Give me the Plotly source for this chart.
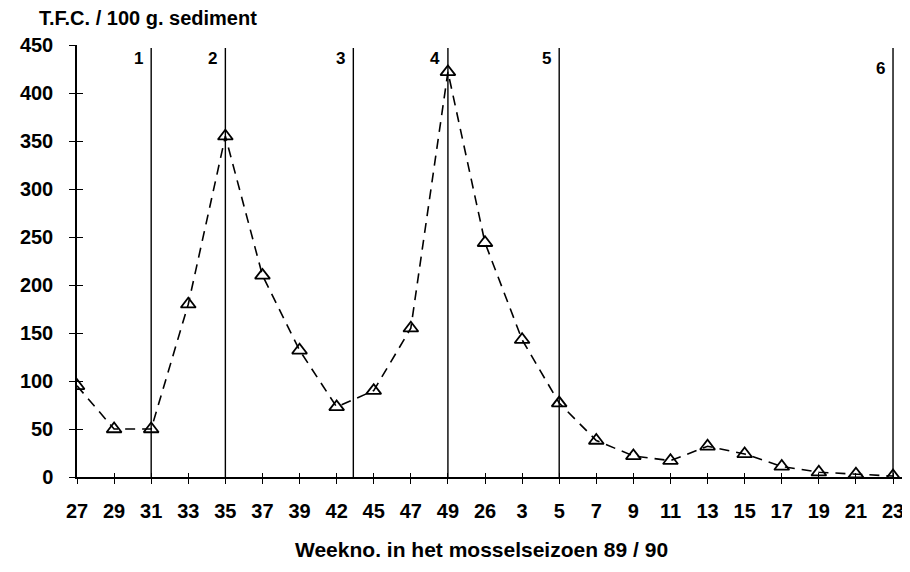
import plotly.graph_objects as go

# ---- data ----
weeks = ["27", "29", "31", "33", "35", "37", "39", "42", "45", "47", "49", "26",
         "3", "5", "7", "9", "11", "13", "15", "17", "19", "21", "23"]
tfc = [95, 50, 50, 180, 355, 210, 132, 73, 90, 155, 422, 244,
       143, 77, 38, 22, 17, 32, 24, 11, 5, 3, 1]

# vertical reference lines (position on the category axis) and their labels
vline_pos = [2, 4, 7.45, 10, 13, 22]
vline_labels = ["1", "2", "3", "4", "5", "6"]
vline_label_y = [436, 436, 436, 436, 436, 426]
vline_top = 447

y_ticks = [0, 50, 100, 150, 200, 250, 300, 350, 400, 450]

y_title = "T.F.C. / 100 g. sediment"
x_title = "Weekno. in het mosselseizoen 89 / 90"

FONT = "Liberation Sans, Arial, sans-serif"

# ---- layout geometry (page pixels); the page body has an 8px margin ----
OFF = 8
W, H = 910 - OFF, 572 - OFF
L, R, T, B = 77 - OFF, 906 - OFF, 45 - OFF, 477 - OFF

fig = go.Figure()

fig.add_trace(go.Scatter(
    x=weeks, y=tfc, mode="lines+markers",
    line=dict(color="black", width=1.6, dash="10px,7px"),
    marker=dict(symbol="triangle-up-open", size=13, color="black",
                line=dict(color="black", width=1.8)),
    showlegend=False, hoverinfo="skip",
))

# invisible trace to carry the overlay axes (for crossing tick marks)
fig.add_trace(go.Scatter(x=[0], y=[0], xaxis="x2", yaxis="y2", mode="markers",
                         marker=dict(opacity=0), showlegend=False, hoverinfo="skip"))

for xp in vline_pos:
    fig.add_shape(type="line", xref="x", yref="y", x0=xp, x1=xp, y0=0, y1=vline_top,
                  line=dict(color="black", width=1.4))

for xp, lab, ly in zip(vline_pos, vline_labels, vline_label_y):
    fig.add_annotation(x=xp, y=ly, xref="x", yref="y", text=lab, showarrow=False,
                       xanchor="right", yanchor="middle", xshift=-6,
                       font=dict(family=FONT, size=17, color="black", weight="bold"))

pw, ph = R - L, B - T
def px_x(p):
    return (p - OFF - L) / pw
def px_y(p):
    return (B - (p - OFF)) / ph

fig.add_annotation(x=px_x(37), y=px_y(18), xref="paper", yref="paper", text=y_title,
                   showarrow=False, xanchor="left", yanchor="middle",
                   font=dict(family=FONT, size=20, color="black", weight="bold"))
fig.add_annotation(x=px_x(481), y=px_y(549), xref="paper", yref="paper", text=x_title,
                   showarrow=False, xanchor="center", yanchor="middle",
                   font=dict(family=FONT, size=21, color="black", weight="bold"))

xr = [0, 22.35]
yr = [0, 450]
tickfont = dict(family=FONT, size=20, color="black", weight="bold")

fig.update_layout(
    width=W, height=H,
    margin=dict(l=L, r=W - R, t=T, b=H - B, pad=0),
    paper_bgcolor="white", plot_bgcolor="white",
    xaxis=dict(type="category", range=xr, showgrid=False, zeroline=False,
               showline=True, linecolor="black", linewidth=2,
               ticks="outside", ticklen=5, tickwidth=1.2, tickcolor="black",
               tickfont=tickfont, ticklabelstandoff=10, fixedrange=True),
    yaxis=dict(range=yr, tickvals=y_ticks, showgrid=False, zeroline=False,
               showline=True, linecolor="black", linewidth=1.5,
               ticks="outside", ticklen=6, tickwidth=1.4, tickcolor="black",
               tickfont=tickfont, ticklabelstandoff=12, fixedrange=True),
    xaxis2=dict(overlaying="x", range=xr, showgrid=False, zeroline=False,
                tickvals=list(range(len(weeks))), showticklabels=False,
                ticks="inside", ticklen=4, tickwidth=1.2, tickcolor="black",
                showline=False, side="bottom", fixedrange=True),
    yaxis2=dict(overlaying="y", range=yr, tickvals=y_ticks, showgrid=False,
                zeroline=False, showticklabels=False, ticks="inside", ticklen=6,
                tickwidth=1.4, tickcolor="black", showline=False, side="left",
                fixedrange=True),
)

fig.write_html("out.html")
